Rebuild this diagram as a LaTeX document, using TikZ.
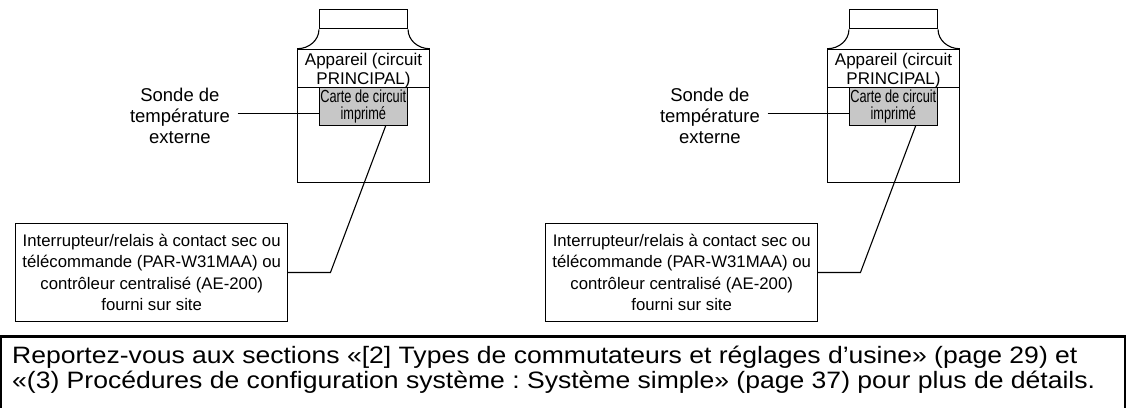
\documentclass[tikz,border=0pt]{standalone}
\usepackage{fontspec}
\setmainfont{Liberation Sans}
\newfontfamily\narrowfont{Liberation Sans}[FakeStretch=0.73]
\newfontfamily\widefont{Liberation Sans}[FakeStretch=1.12]
\frenchspacing
\usetikzlibrary{positioning,calc}
\tikzset{
  unit/.style    = {draw, line width=1.1pt, minimum width=131.6pt,
                    minimum height=133pt, inner sep=0pt},
  capbox/.style  = {draw, line width=1.1pt, minimum width=88pt,
                    minimum height=19pt, inner sep=0pt},
  pcb/.style     = {draw, line width=0.9pt, fill=black!22, align=center,
                    minimum width=88pt, minimum height=37.6pt, inner sep=0pt,
                    font=\narrowfont\fontsize{17.5}{17}\selectfont},
  header/.style  = {align=center, inner sep=0pt,
                    font=\fontsize{17}{18.3}\selectfont},
  probe/.style   = {align=center, inner sep=0pt,
                    font=\fontsize{18.5}{21}\selectfont},
  ctrl/.style    = {draw, line width=0.9pt, align=center, minimum width=272pt,
                    minimum height=98.4pt, inner sep=0pt,
                    font=\fontsize{16.75}{21.5}\selectfont},
  wire/.style    = {line width=1.1pt},
  divider/.style = {line width=0.7pt},
  frame/.style   = {line width=2.2pt},
  note/.style    = {align=left, inner sep=0pt,
                    font=\widefont\fontsize{23.7}{25}\selectfont}
}
\begin{document}
\begin{tikzpicture}[x=1pt, y=-1pt]
  \useasboundingbox (0,0) rectangle (1127,407);

  % the two units, side by side
  \foreach \dx/\u in {0/a, 530/b} {
    \node[unit]                       (body\u)  at (363.5+\dx,115.8) {};
    \node[capbox, above=19.3pt of body\u] (cap\u) {};
    \node[header]                     (head\u)  at (363.5+\dx,70.5) {Appareil (circuit\\PRINCIPAL)};
    \node[pcb]                        (pcb\u)   at (363.3+\dx,106.5) {Carte de circuit\\imprimé};
    \node[probe, anchor=east]         (probe\u) at (230+\dx,116.3) {Sonde de\\température\\externe};
    \node[ctrl]                       (ctrl\u)  at (151.7+\dx,272.5)
      {Interrupteur/relais à contact sec ou\\télécommande (PAR-W31MAA) ou\\contrôleur centralisé (AE-200)\\fourni sur site};

    \draw[divider] (body\u.west |- pcb\u.north) -- (body\u.east |- pcb\u.north);
    \draw[wire] (cap\u.south west) .. controls +(0,10.7) and +(11.9,0) .. (body\u.north west);
    \draw[wire] (cap\u.south east) .. controls +(0,10.7) and +(-11.9,0) .. (body\u.north east);

    \draw[wire] ($(probe\u.east)+(7.7,-3)$) coordinate (tap\u) -- (tap\u -| pcb\u.west);
    \draw[wire] (ctrl\u.east) -- ++(42.3,0) -- ($(pcb\u.south)+(22.4,0)$);
  }

  % note at the bottom
  \draw[frame] (1,412) |- (1125,336.5) -- (1125,412);
  \node[note, anchor=north west] (note) at (12,345.5)
    {Reportez-vous aux sections «[2] Types de commutateurs et réglages d’usine» (page 29) et\\
     «(3) Procédures de configuration système : Système simple» (page 37) pour plus de détails.};
\end{tikzpicture}
\end{document}
